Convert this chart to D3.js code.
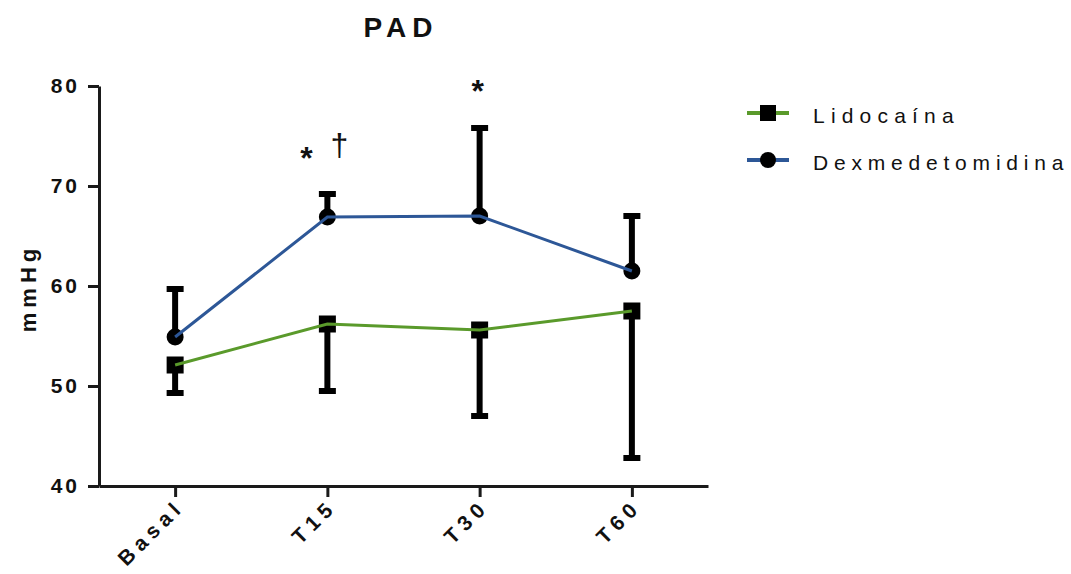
<!DOCTYPE html>
<html>
<head>
<meta charset="utf-8">
<script src="https://cdn.jsdelivr.net/npm/d3@7"></script>
<style>
  body { margin: 0; background: #fff; }
  svg { font-family: "Liberation Sans", Arial, sans-serif; }
</style>
</head>
<body>
<svg id="chart" width="1071" height="574"></svg>
<script>
// ---- data ----
const timePoints = ["Basal", "T15", "T30", "T60"];
const lidoMean = [52.1, 56.2, 55.6, 57.5];
const lidoLow = [49.3, 49.5, 47.0, 42.8];
const dexMean = [54.9, 66.9, 67.0, 61.5];
const dexHigh = [59.7, 69.2, 75.8, 67.0];
const yTicks = [40, 50, 60, 70, 80];

const svg = d3.select("#chart");
const margin = { top: 86, left: 99, right: 363, bottom: 88 };
const width = 1071, height = 574;
const innerW = width - margin.left - margin.right;
const innerH = height - margin.top - margin.bottom;

const g = svg.append("g").attr("transform", `translate(${margin.left},${margin.top})`);

const x = d3.scalePoint().domain(timePoints).range([0, innerW]).padding(0.5);
const y = d3.scaleLinear().domain([40, 80]).range([innerH, 0]);

// ---- axes ----
const yAxis = g.append("g")
  .call(d3.axisLeft(y).tickValues(yTicks).tickSize(11).tickPadding(8).tickSizeOuter(0));
const xAxis = g.append("g")
  .attr("transform", `translate(0,${innerH})`)
  .call(d3.axisBottom(x).tickSize(11).tickSizeOuter(0));

[yAxis, xAxis].forEach(ax => {
  ax.select(".domain").attr("stroke", "#1a1a1a").attr("stroke-width", 3);
  ax.selectAll(".tick line").attr("stroke", "#1a1a1a").attr("stroke-width", 3);
  ax.selectAll("text")
    .attr("fill", "#111")
    .style("font-size", "21px")
    .style("font-weight", "bold");
});
yAxis.selectAll("text").style("letter-spacing", "3px");

xAxis.selectAll("text")
  .style("font-size", "21px")
  .style("letter-spacing", "5.5px")
  .attr("text-anchor", "end")
  .attr("x", 0).attr("y", 0).attr("dy", "0")
  .attr("transform", "translate(10,22) rotate(-45)");

// y label
svg.append("text")
  .attr("transform", `translate(36,${margin.top + innerH / 2 + 2}) rotate(-90)`)
  .attr("text-anchor", "middle")
  .style("font-size", "22px")
  .style("font-weight", "bold")
  .style("letter-spacing", "5px")
  .attr("fill", "#111")
  .text("mmHg");

// title
svg.append("text")
  .attr("x", 401).attr("y", 37)
  .attr("text-anchor", "middle")
  .style("font-size", "28px")
  .style("font-weight", "bold")
  .style("letter-spacing", "6px")
  .attr("fill", "#111")
  .text("PAD");

// ---- error bars ----
const capW = 17;
function errorBars(means, ends) {
  timePoints.forEach((t, i) => {
    const cx = x(t);
    g.append("line")
      .attr("x1", cx).attr("x2", cx)
      .attr("y1", y(means[i])).attr("y2", y(ends[i]))
      .attr("stroke", "#000").attr("stroke-width", 6);
    g.append("line")
      .attr("x1", cx - capW / 2).attr("x2", cx + capW / 2)
      .attr("y1", y(ends[i])).attr("y2", y(ends[i]))
      .attr("stroke", "#000").attr("stroke-width", 6);
  });
}
errorBars(lidoMean, lidoLow);
errorBars(dexMean, dexHigh);

// ---- markers ----
const mk = 17;
g.selectAll("rect.lido").data(lidoMean).enter().append("rect")
  .attr("class", "lido")
  .attr("x", (d, i) => x(timePoints[i]) - mk / 2)
  .attr("y", d => y(d) - mk / 2)
  .attr("width", mk).attr("height", mk)
  .attr("fill", "#000");

g.selectAll("circle.dex").data(dexMean).enter().append("circle")
  .attr("class", "dex")
  .attr("cx", (d, i) => x(timePoints[i]))
  .attr("cy", d => y(d))
  .attr("r", mk / 2)
  .attr("fill", "#000");

// ---- lines ----
const line = d3.line()
  .x((d, i) => x(timePoints[i]))
  .y(d => y(d));

const green = "#5a9a2b";
const blue = "#2d5797";

g.append("path").datum(lidoMean)
  .attr("fill", "none").attr("stroke", green).attr("stroke-width", 3).attr("d", line);
g.append("path").datum(dexMean)
  .attr("fill", "none").attr("stroke", blue).attr("stroke-width", 3).attr("d", line);

// ---- significance marks ----
g.append("text")
  .attr("x", x("T15") - 21).attr("y", y(71.7))
  .attr("text-anchor", "middle")
  .style("font-size", "32px").style("font-weight", "bold")
  .attr("fill", "#111").text("*");
g.append("text")
  .attr("x", x("T15") + 12).attr("y", y(73.0))
  .attr("text-anchor", "middle")
  .style("font-size", "32px")
  .attr("fill", "#111").text("†");
g.append("text")
  .attr("x", x("T30") - 2).attr("y", y(78.4))
  .attr("text-anchor", "middle")
  .style("font-size", "32px").style("font-weight", "bold")
  .attr("fill", "#111").text("*");

// ---- legend ----
const legendItems = [
  { name: "Lidocaína", color: green, shape: "square", spacing: 6.2 },
  { name: "Dexmedetomidina", color: blue, shape: "circle", spacing: 5.8 }
];
const legend = svg.append("g").attr("transform", "translate(747,113)");
legendItems.forEach((it, i) => {
  const row = legend.append("g").attr("transform", `translate(0,${i * 47})`);
  row.append("line").attr("x1", 0).attr("x2", 42).attr("y1", 0).attr("y2", 0)
    .attr("stroke", it.color).attr("stroke-width", 4);
  if (it.shape === "square") {
    row.append("rect").attr("x", 21 - 8).attr("y", -8).attr("width", 16).attr("height", 16).attr("fill", "#000");
  } else {
    row.append("circle").attr("cx", 21).attr("cy", 0).attr("r", 8).attr("fill", "#000");
  }
  row.append("text")
    .attr("x", 66).attr("y", 10)
    .style("font-size", "21px")
    .style("letter-spacing", it.spacing + "px")
    .attr("fill", "#111")
    .text(it.name);
});
</script>
</body>
</html>
